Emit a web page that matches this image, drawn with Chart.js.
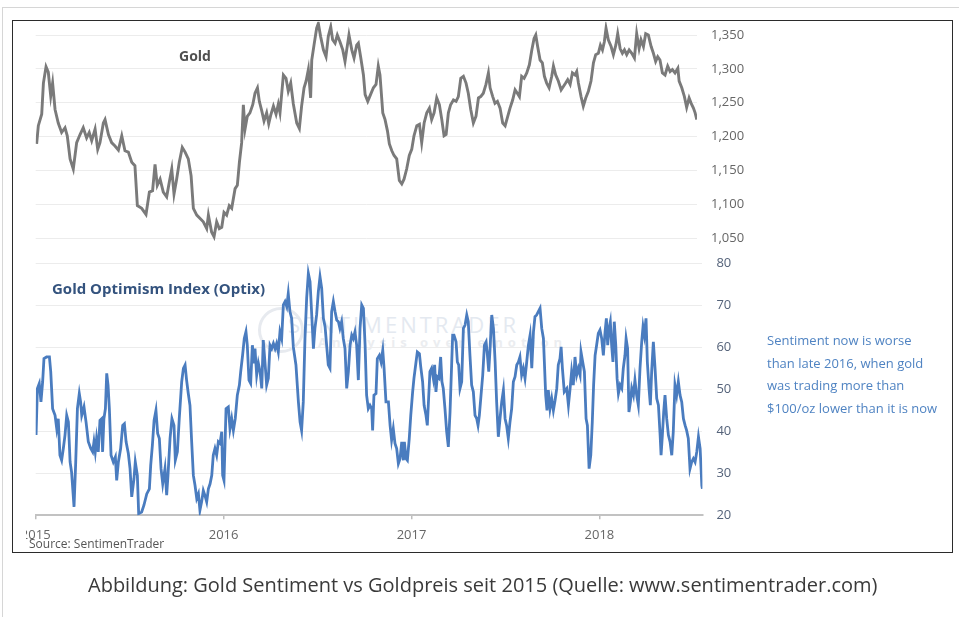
<!DOCTYPE html>
<html>
<head>
<meta charset="utf-8">
<script src="https://cdn.jsdelivr.net/npm/chart.js@4/dist/chart.umd.min.js"></script>
<style>
html,body{margin:0;padding:0;background:#fff;}
body{width:959px;height:617px;position:relative;overflow:hidden;font-family:"Open Sans",sans-serif;}
#outer{position:absolute;left:2px;top:7px;width:980px;height:640px;border:1px solid #d6d6d6;}
#frame{position:absolute;left:12px;top:20px;width:939px;height:531px;border:1px solid #2b2b2b;background:#fff;}
canvas{position:absolute;left:0;top:0;}
#optixCanvas{clip-path:inset(0 0 0 26px);}
.t{position:absolute;white-space:nowrap;transform:translateY(-50%);line-height:1.2;}
#goldTitle{left:179px;top:56px;font-size:14px;font-weight:700;color:#505050;}
#optixTitle{left:52px;top:288px;font-size:15px;font-weight:700;color:#34537e;}
#note{position:absolute;left:767px;top:329px;font-size:13px;line-height:22.7px;color:#4f83c2;white-space:nowrap;}
#source{left:29px;top:544px;font-size:12px;color:#555;}
#caption{left:88px;top:585px;font-size:20px;color:#3a3a3a;}
#wm1{left:288px;top:324px;font-size:22px;letter-spacing:3px;color:#e4e9f0;}
#wm2{left:318px;top:343px;font-size:13px;font-weight:700;letter-spacing:5px;color:#ebedf0;}
#wmCircle{position:absolute;left:258px;top:307px;width:40px;height:40px;border:3px solid #e7eaef;border-radius:50%;}
</style>
</head>
<body>
<div id="outer"></div>
<div id="frame"></div>
<div id="wmCircle"></div>
<div class="t" id="wm1">SENTIMENTRADER</div>
<div class="t" id="wm2">Analysis over emotion</div>
<canvas id="goldCanvas" width="959" height="617"></canvas>
<canvas id="optixCanvas" width="959" height="617"></canvas>
<div class="t" id="goldTitle">Gold</div>
<div class="t" id="optixTitle">Gold Optimism Index (Optix)</div>
<div id="note">Sentiment now is worse<br>than late 2016, when gold<br>was trading more than<br>$100/oz lower than it is now</div>
<div class="t" id="source">Source: SentimenTrader</div>
<div class="t" id="caption">Abbildung: Gold Sentiment vs Goldpreis seit 2015 (Quelle: www.sentimentrader.com)</div>
<script>
// ---- Data (time in years since 1 Jan 2015) ----
const yearLabels = ['2015','2016','2017','2018'];
const yearTicks = [0,1,2,3];
const goldTicks = [1050,1100,1150,1200,1250,1300,1350];
const optixTicks = [20,30,40,50,60,70,80];

const goldYears = [
0.005,0.014,0.032,0.041,0.055,0.067,0.080,0.090,0.103,0.120,0.138,0.156,0.168,0.183,0.200,0.218,0.236,0.253,0.271,0.285,
0.298,0.316,0.330,0.342,0.360,0.369,0.387,0.404,0.422,0.440,0.458,0.475,0.493,0.511,0.528,0.541,0.564,0.587,0.605,0.622,
0.635,0.647,0.662,0.679,0.697,0.711,0.724,0.736,0.750,0.764,0.780,0.795,0.812,0.827,0.839,0.857,
0.892,0.910,0.919,0.936,0.949,0.963,0.977,0.990,1.002,1.016,1.030,1.043,1.061,1.073,1.084,1.096,1.105,1.114,1.126,1.140,
1.155,1.167,1.180,1.190,1.203,1.215,1.229,1.240,1.250,1.265,1.279,1.291,1.300,1.318,1.332,1.344,1.357,1.371,1.389,1.403,
1.415,1.428,1.439,1.451,1.463,1.469,1.481,1.495,1.504,1.516,1.531,1.545,1.557,1.570,1.580,1.593,1.605,1.619,1.634,1.646,
1.655,1.667,1.682,1.694,1.708,1.717,1.729,1.744,1.753,1.767,
1.779,1.797,1.811,1.823,1.832,1.847,1.859,1.872,1.882,1.895,1.907,1.921,1.935,1.948,1.960,1.974,1.988,2.001,2.013,2.028,
2.042,2.054,2.067,2.081,2.095,2.107,2.120,2.134,2.148,2.161,2.173,2.184,2.196,2.208,2.223,2.237,2.249,2.262,2.276,2.290,
2.302,2.315,2.329,2.343,2.356,2.368,2.382,2.396,2.409,2.418,2.432,2.444,2.457,2.471,2.485,2.498,2.510,2.524,2.538,2.551,
2.563,2.574,2.586,2.599,2.613,2.627,2.640,2.652,2.661,
2.671,2.684,2.696,2.707,2.719,2.732,2.746,2.755,2.767,2.781,2.796,2.808,2.820,2.831,2.844,2.856,2.870,2.879,2.888,2.902,
2.914,2.927,2.941,2.955,2.968,2.980,2.994,3.005,3.016,3.026,3.035,3.047,3.062,3.074,3.087,3.097,3.110,3.122,3.133,3.145,
3.158,3.172,3.186,3.198,3.211,3.221,3.234,3.246,3.260,3.275,3.287,3.299,3.310,3.322,3.335,3.349,3.363,3.376,3.388,3.402,
3.417,3.424,3.438,3.452,3.464,3.477,3.488,3.500,3.509,3.518
];
const goldPrice = [
1189,1216,1233,1279,1303,1295,1260,1279,1240,1220,1206,1213,1201,1167,1152,1191,1203,1213,1198,1206,
1194,1211,1181,1191,1220,1225,1203,1191,1186,1180,1201,1179,1177,1162,1157,1098,1094,1085,1118,1120,
1159,1128,1137,1118,1111,1133,1152,1115,1137,1162,1184,1177,1167,1142,1094,1084,
1074,1064,1084,1059,1052,1074,1064,1066,1088,1084,1098,1094,1123,1128,1162,1191,1247,1211,1230,1235,
1247,1264,1272,1252,1238,1223,1235,1219,1231,1245,1233,1248,1235,1291,1286,1267,1279,1248,1220,1212,
1245,1272,1282,1299,1257,1313,1335,1360,1367,1348,1328,1318,1348,1362,1343,1338,1350,1340,1328,1311,
1328,1350,1328,1316,1335,1338,1318,1291,1262,1252,
1260,1272,1277,1304,1291,1235,1225,1208,1189,1179,1172,1167,1135,1130,1137,1152,1172,1181,1201,1216,
1218,1191,1220,1235,1242,1225,1235,1257,1247,1225,1201,1203,1235,1247,1254,1252,1259,1286,1289,1279,
1264,1240,1220,1230,1257,1259,1264,1277,1294,1272,1259,1249,1252,1242,1220,1216,1228,1242,1254,1269,
1264,1259,1289,1286,1294,1306,1328,1345,1350,
1333,1313,1309,1289,1279,1272,1289,1304,1291,1282,1269,1274,1279,1284,1277,1294,1291,1296,1279,1259,
1245,1257,1267,1282,1309,1321,1323,1335,1328,1340,1360,1343,1333,1321,1335,1352,1330,1323,1328,1321,
1328,1323,1316,1352,1330,1343,1333,1352,1350,1333,1323,1311,1318,1313,1294,1291,1304,1296,1299,1294,
1301,1282,1272,1259,1243,1257,1249,1242,1235,1225
];

const optixYears = [
0.002,0.009,0.019,0.028,0.037,0.044,0.058,0.073,0.080,0.090,0.103,0.112,0.120,0.129,0.138,0.147,0.156,0.165,0.174,0.183,
0.191,0.204,0.213,0.222,0.232,0.239,0.245,0.257,0.268,0.280,0.293,0.303,0.310,0.317,0.324,0.333,0.342,0.351,0.356,0.363,
0.371,0.378,0.385,0.392,0.401,0.413,0.424,0.431,0.440,0.452,0.463,0.472,0.481,0.493,0.502,0.511,0.523,0.530,0.541,0.548,
0.564,0.576,0.591,0.605,0.612,0.621,0.630,0.640,0.649,0.658,0.667,0.676,0.688,0.697,0.704,0.715,0.725,0.736,0.743,0.754,
0.764,0.777,0.786,0.795,0.803,0.812,0.821,0.830,0.839,0.848,0.857,0.866,0.874,
0.883,0.892,0.901,0.910,0.919,0.928,0.937,0.945,0.954,0.963,0.972,0.981,0.990,0.995,1.002,1.013,1.025,1.034,1.043,1.052,
1.062,1.073,1.084,1.091,1.101,1.110,1.119,1.126,1.135,1.144,1.153,1.162,1.167,1.176,1.185,1.194,1.203,1.211,1.220,1.229,
1.238,1.247,1.256,1.265,1.274,1.282,1.291,1.300,1.309,1.318,1.327,1.336,1.344,1.353,1.362,1.371,1.385,1.398,1.407,1.415,
1.424,1.433,1.442,1.451,1.460,1.469,1.478,1.486,1.495,1.504,1.513,1.522,1.531,1.540,1.549,1.557,1.566,1.575,1.584,1.593,
1.602,1.611,1.619,1.628,1.637,1.646,1.655,1.664,1.673,1.682,1.690,1.699,1.708,1.717,1.726,1.735,1.744,1.753,1.761,1.770,
1.779,1.788,1.793,1.800,1.811,1.818,1.829,1.838,1.847,1.854,1.864,1.877,1.886,1.894,1.903,1.912,1.921,1.930,1.939,1.948,
1.957,1.962,1.971,1.978,1.988,1.996,2.006,2.013,2.024,2.031,2.042,2.049,2.059,2.067,2.077,2.084,2.091,2.098,2.107,2.116,
2.123,2.130,2.137,2.146,2.155,2.162,2.169,2.178,2.187,2.196,2.205,2.214,2.219,2.226,2.237,2.244,2.251,2.258,2.267,2.276,
2.285,2.294,2.302,2.311,2.320,2.329,2.338,2.347,2.354,2.361,2.370,2.379,2.388,2.397,2.404,2.411,2.418,2.427,2.436,2.445,
2.453,2.462,2.471,2.480,2.489,2.498,2.506,2.515,2.524,2.533,2.542,2.551,2.560,2.569,2.577,2.586,2.595,2.604,2.613,2.622,
2.631,2.640,2.649,2.657,2.666,
2.684,2.693,2.702,2.707,2.714,2.721,2.728,2.737,2.746,2.755,2.764,2.773,2.781,2.790,2.796,2.803,2.813,2.826,2.835,2.844,
2.852,2.861,2.870,2.879,2.888,2.897,2.902,2.911,2.920,2.929,2.936,2.945,2.954,2.962,2.969,2.977,2.985,2.994,3.003,3.012,
3.021,3.030,3.037,3.044,3.051,3.058,3.065,3.072,3.079,3.087,3.094,3.101,3.110,3.119,3.127,3.136,3.142,3.150,3.157,3.165,
3.172,3.181,3.189,3.198,3.207,3.216,3.225,3.232,3.239,3.248,3.255,3.264,3.271,3.278,3.287,3.296,3.305,3.314,3.323,3.328,
3.335,3.342,3.349,3.358,3.367,3.376,3.385,3.393,3.402,3.411,3.420,3.429,3.438,3.447,3.456,3.464,3.473,3.482,3.491,3.500,
3.509,3.518,3.527,3.536,3.545,3.548
];
const optixValue = [
39.1,50.2,51.4,47,51.8,57.3,57.7,57.7,54.2,45.4,43.8,40.6,43,34.3,33.1,35.9,39.1,43.8,42.2,32.7,
30.3,22,32.7,45.4,49,47,43.8,45.8,42.2,37.5,35.9,35.1,37.5,35.1,38.3,35.1,42.6,43,35.1,43,
45.4,53.8,51,45.4,34.3,32.7,33.9,28.3,32.7,35.9,41.4,41.8,37.5,34.7,31.1,24.4,28.7,32.7,29.5,20.4,
20.8,22.4,25.1,26.3,31.9,36.7,42.6,45,39.5,38.3,31.1,27.5,31.1,24.8,29.5,38.3,43,41.4,33.1,35.1,
43,51.8,55,55.8,52.2,49,46.2,37.5,29.5,27.1,24,25.1,21.2,
23.2,25.9,24.7,23.2,26.3,27.5,29.5,34.3,35.9,34.3,37.5,37.1,39.9,29.5,28.3,45.4,45.8,40.6,43,40.2,
43,48.6,51,54.2,58.1,62.1,63.7,60.5,52.2,51.4,60.5,56.5,59.7,53.4,56.2,54.2,50.2,61.7,56.5,51,
52.6,60.5,59.7,60.9,59.7,60.9,58.9,63.7,62.1,70.1,70.9,69.7,72.8,68.5,66.9,60.1,55.8,47,42.2,40.2,
47,62.1,71.7,77.6,75.6,67.7,59.7,64.5,67.7,73.2,76.8,74,66.9,64.9,60.1,55.8,55,68.5,70.9,68.5,
66.5,66.1,64.5,66.1,62.1,59.7,50.2,54.2,60.5,62.9,62.1,63.7,60.5,52.2,64.5,70.1,69.3,60.5,48.6,45.4,
46.2,45.4,40.2,48.6,49,57.3,58.1,56.5,59.3,55,47,47,41.4,37.9,40.6,37.1,35.9,32.3,33.5,37.5,
33.1,37.5,33.5,33.1,38.3,43.8,49.4,52.6,56.5,58.9,58.5,55.4,51.8,46.2,43.8,41.4,47.8,54.2,55,52.6,
55.8,49.4,53,52.6,57.7,51.8,50.2,45.4,39.9,36.3,44.6,56.5,62.9,62.9,61.3,56.5,55.8,50.2,51.8,64.5,
65.3,67.7,66.1,58.1,51,49.4,43.8,43,41.4,43.8,48.6,53.4,60.5,61.3,58.1,54.2,59.7,67.7,64.5,56.5,
47,38.7,43,47,49.8,43,41.4,38.3,42.2,45.4,51.8,53,55.8,56.5,57.7,53.4,55,52.6,56.5,60.5,
62.9,55,63.7,67.3,67.7,
69.3,64.5,62.1,56.5,48.6,45,49.8,45.4,47.8,45,47.4,50.2,55.8,57.3,60.1,55,49.4,50.2,46.2,50.2,
54.2,51,57.7,53.4,55,53.4,58.9,56.5,54.2,43,41.4,31.1,34.3,42.2,51,58.1,60.5,63.3,64.1,62.1,
58.1,63.7,66.9,60.5,64.5,66.1,60.5,56.5,66.1,60.5,52.6,49,51,50.2,55,58.1,62.1,59.7,44.6,47,
50.2,48.6,52.2,48.6,46.2,55,61.3,64.9,62.9,66.9,56.5,50.2,46.2,54.2,61.3,55,47.8,46.2,39.1,34.3,
39.1,44.6,48.6,43,39.1,37.5,34.3,39.9,51,48.6,51.8,48.6,47,43,41.4,40.2,38.3,31.1,32.7,33.5,
32.7,35.1,38.7,35.9,27.1,26.3
];

// ---- Charts ----
const FONT = '"Open Sans", sans-serif';
const toPoints = (xs, ys) => xs.map((x, i) => ({x: x, y: ys[i]}));

new Chart(document.getElementById('goldCanvas'), {
  type: 'line',
  data: {datasets: [{
    data: toPoints(goldYears, goldPrice),
    borderColor: '#7a7a7a', borderWidth: 2.9, pointRadius: 0, tension: 0, fill: false
  }]},
  options: {
    responsive: false, animation: false, events: [],
    layout: {padding: {left: 35.7, top: 20, right: 202, bottom: 354}},
    plugins: {legend: {display: false}, tooltip: {enabled: false}},
    scales: {
      x: {type: 'linear', min: 0, max: 3.519, display: false},
      y: {
        type: 'linear', position: 'right', min: 1013.2, max: 1369.5,
        afterBuildTicks: s => { s.ticks = goldTicks.map(v => ({value: v})); },
        afterFit: s => { s.width = 60; },
        grid: {color: '#ececec', lineWidth: 1, drawTicks: false},
        border: {display: false},
        ticks: {padding: 14, color: '#666', font: {family: FONT, size: 13},
                callback: v => v.toLocaleString('en-US')}
      }
    }
  }
});

new Chart(document.getElementById('optixCanvas'), {
  type: 'line',
  data: {datasets: [{
    data: toPoints(optixYears, optixValue),
    borderColor: '#4a7cbf', borderWidth: 2.8, pointRadius: 0, tension: 0, fill: false
  }]},
  options: {
    responsive: false, animation: false, events: [],
    layout: {padding: {left: 35.7, top: 263.3, right: 196.6, bottom: 71.7}},
    plugins: {legend: {display: false}, tooltip: {enabled: false}},
    scales: {
      x: {
        type: 'linear', min: 0, max: 3.548,
        afterBuildTicks: s => { s.ticks = yearTicks.map(v => ({value: v})); },
        afterFit: s => { s.height = 30; },
        grid: {drawOnChartArea: false, drawTicks: true, tickLength: 4, color: '#bdbdbd', lineWidth: 1.5},
        border: {display: true, color: '#c2c2c2', width: 2},
        ticks: {padding: 8, color: '#666', maxRotation: 0, font: {family: FONT, size: 13},
                callback: (v, i) => yearLabels[i]}
      },
      y: {
        type: 'linear', position: 'right', min: 20, max: 80,
        afterBuildTicks: s => { s.ticks = optixTicks.map(v => ({value: v})); },
        afterFit: s => { s.width = 60; },
        grid: {color: '#ececec', lineWidth: 1, drawTicks: false},
        border: {display: false},
        ticks: {padding: 14, color: '#55637a', font: {family: FONT, size: 13}}
      }
    }
  }
});
</script>
</body>
</html>
